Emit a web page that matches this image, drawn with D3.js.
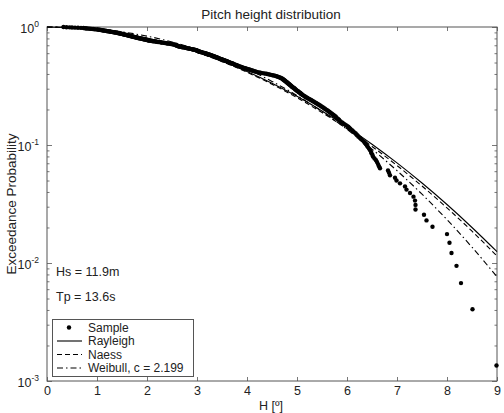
<!DOCTYPE html>
<html>
<head>
<meta charset="utf-8">
<script src="https://cdn.jsdelivr.net/npm/d3@7"></script>
<style>
  html, body { margin: 0; padding: 0; background: #fff; }
  svg { display: block; font-family: "Liberation Sans", Arial, sans-serif; }
</style>
</head>
<body>
<svg id="chart" width="504" height="413"></svg>
<script>
// Pitch heights of the sample, sorted from largest to smallest [deg]
const sampleHeights = [
  8.99, 8.51, 8.28, 8.19, 8.09, 8.05, 8.00, 7.71, 7.59, 7.54,
  7.37, 7.37, 7.36, 7.33, 7.26, 7.19, 7.16, 7.06, 6.99, 6.96,
  6.86, 6.84, 6.82, 6.66, 6.64, 6.62, 6.60, 6.58, 6.55, 6.52,
  6.51, 6.49, 6.48, 6.46,
  6.44, 6.42, 6.40, 6.38, 6.36,
  6.34, 6.31, 6.28, 6.26, 6.23, 6.21,
  6.19, 6.17, 6.14, 6.12, 6.10, 6.07, 6.05, 6.03, 6.01,
  5.98, 5.95, 5.92, 5.90, 5.87,
  5.85, 5.84, 5.82, 5.80, 5.78, 5.77, 5.75, 5.73,
  5.71, 5.69, 5.67, 5.65, 5.63, 5.61, 5.59, 5.57, 5.55, 5.53, 5.51, 5.49, 5.47, 5.45, 5.43, 5.41,
  5.39, 5.37, 5.35, 5.33, 5.31, 5.29, 5.27, 5.25, 5.23, 5.21, 5.19, 5.17, 5.16, 5.14,
  5.12, 5.11, 5.09, 5.08, 5.07, 5.06, 5.04, 5.03, 5.02, 5.00,
  4.99, 4.98, 4.97, 4.96, 4.95, 4.94, 4.92, 4.91, 4.90, 4.89, 4.88, 4.87, 4.86,
  4.85, 4.84, 4.83, 4.82, 4.81, 4.80, 4.79, 4.78, 4.77, 4.76, 4.75,
  4.74, 4.73, 4.72, 4.71, 4.70, 4.68, 4.67, 4.65, 4.63, 4.61, 4.59,
  4.57, 4.54, 4.51, 4.48, 4.45, 4.42,
  4.39, 4.35, 4.31, 4.27, 4.24,
  4.21, 4.18, 4.16, 4.14, 4.12, 4.10,
  4.08, 4.06, 4.04, 4.02, 4.00, 3.98, 3.96, 3.94, 3.92,
  3.90, 3.88, 3.87, 3.85, 3.83, 3.82, 3.80, 3.79,
  3.78, 3.76, 3.75, 3.73, 3.72, 3.71, 3.69, 3.68, 3.66, 3.65, 3.64, 3.62, 3.61, 3.60, 3.58,
  3.57, 3.55, 3.54, 3.53, 3.51, 3.50, 3.49, 3.47, 3.46, 3.44, 3.43, 3.42, 3.41, 3.40,
  3.39, 3.37, 3.36, 3.35, 3.33, 3.32, 3.31, 3.29, 3.28,
  3.27, 3.25, 3.24, 3.22, 3.21, 3.19, 3.18, 3.16, 3.15, 3.13, 3.12, 3.10, 3.09, 3.07, 3.06,
  3.04, 3.03, 3.02, 3.01, 3.00, 2.99, 2.98,
  2.97, 2.95, 2.93, 2.91, 2.89, 2.87, 2.85, 2.83, 2.81, 2.79, 2.77, 2.75, 2.73, 2.71, 2.69, 2.67,
  2.65, 2.64, 2.63, 2.62, 2.61, 2.60, 2.59, 2.58, 2.57, 2.56, 2.55, 2.53,
  2.51, 2.48, 2.46, 2.43, 2.41, 2.39, 2.36, 2.34, 2.31, 2.29, 2.27, 2.24, 2.22, 2.19, 2.17,
  2.14, 2.12, 2.10, 2.07,
  2.05, 2.04, 2.02, 2.01, 2.00, 1.98, 1.96, 1.95, 1.93, 1.92, 1.90, 1.89, 1.87,
  1.85, 1.84, 1.82, 1.81, 1.80, 1.78, 1.77, 1.76, 1.74, 1.73, 1.72, 1.70, 1.69, 1.68, 1.66,
  1.65, 1.64, 1.63, 1.61, 1.60, 1.59, 1.57, 1.56, 1.55, 1.53, 1.52, 1.51, 1.49, 1.48, 1.47,
  1.45, 1.44, 1.43, 1.41, 1.40,
  1.38, 1.36, 1.34, 1.33, 1.31, 1.29, 1.27, 1.26, 1.24, 1.22, 1.20, 1.19, 1.17, 1.15, 1.13,
  1.12, 1.10, 1.08, 1.06, 1.05, 1.03, 1.01,
  0.98, 0.95, 0.92, 0.89, 0.86, 0.83, 0.80, 0.78, 0.76, 0.73,
  0.68, 0.62, 0.56, 0.50, 0.45, 0.39, 0.33
];

// Fitted distributions, exceedance probability at each height
const fitHeights = [0, 0.5, 1, 1.5, 2, 2.5, 3, 3.5, 4, 4.5, 5, 5.5, 6, 6.5, 7, 7.5, 8, 8.5, 9];
const rayleighProb = [1, 0.9866, 0.9473, 0.8853, 0.8053, 0.7130, 0.6144, 0.5153, 0.4206, 0.3342,
  0.2584, 0.1945, 0.1424, 0.1016, 0.0705, 0.0476, 0.0313, 0.0200, 0.01247];
const naessProb = [1, 0.9863, 0.9463, 0.8833, 0.8020, 0.7084, 0.6087, 0.5088, 0.4137, 0.3272,
  0.2517, 0.1884, 0.1372, 0.0972, 0.0670, 0.0449, 0.0293, 0.0186, 0.01146];
const weibullProb = [1, 0.9916, 0.9619, 0.9096, 0.8366, 0.7472, 0.6472, 0.5430, 0.4409, 0.3460,
  0.2624, 0.1921, 0.1357, 0.0923, 0.0606, 0.0383, 0.0233, 0.01361, 0.00765];

const xTicks = [0, 1, 2, 3, 4, 5, 6, 7, 8, 9];
const yDecades = [1e-3, 1e-2, 1e-1, 1];
const yExponents = ["-3", "-2", "-1", "0"];
const legendLabels = ["Sample", "Rayleigh", "Naess", "Weibull, c = 2.199"];
const notes = ["Hs = 11.9m", "Tp = 13.6s"];

const svg = d3.select("#chart");
const plotLeft = 47, plotRight = 497, plotTop = 27, plotBottom = 381;

const x = d3.scaleLinear().domain([0, 9]).range([plotLeft, plotRight]);
const y = d3.scaleLog().domain([1e-3, 1]).range([plotBottom, plotTop]);

const ink = "#222";
const axisColor = "#555";

// Minor log ticks
const minorTicks = [];
yDecades.slice(0, 3).forEach(d => { for (let k = 2; k <= 9; k++) minorTicks.push(d * k); });

function styleAxis(g) {
  g.select(".domain").remove();
  g.selectAll(".tick line").attr("stroke", axisColor).attr("stroke-width", 0.8);
  g.selectAll(".tick text").attr("fill", ink).attr("font-size", 12.5);
}

// Bottom axis with labels
svg.append("g").attr("transform", `translate(0,${plotBottom})`)
  .call(d3.axisBottom(x).tickValues(xTicks).tickFormat(d3.format("d")).tickSizeInner(-4).tickSizeOuter(0).tickPadding(5))
  .call(styleAxis);
// Top axis ticks
svg.append("g").attr("transform", `translate(0,${plotTop})`)
  .call(d3.axisTop(x).tickValues(xTicks).tickFormat("").tickSizeInner(-4).tickSizeOuter(0))
  .call(styleAxis);

// Left axis: decades with superscript labels
const yAxisG = svg.append("g").attr("transform", `translate(${plotLeft},0)`)
  .call(d3.axisLeft(y).tickValues(yDecades).tickFormat("").tickSizeInner(-5).tickSizeOuter(0))
  .call(styleAxis);
yAxisG.selectAll(".tick").each(function(d, i) {
  const t = d3.select(this).append("text")
    .attr("x", -8).attr("y", 0).attr("dy", "0.45em")
    .attr("text-anchor", "end").attr("fill", ink).attr("font-size", 12.5);
  t.append("tspan").text("10");
  t.append("tspan").attr("font-size", 8.5).attr("dy", "-0.75em").text(yExponents[i]);
});
svg.append("g").attr("transform", `translate(${plotLeft},0)`)
  .call(d3.axisLeft(y).tickValues(minorTicks).tickFormat("").tickSizeInner(-2.5).tickSizeOuter(0))
  .call(styleAxis);
// Right axis ticks
svg.append("g").attr("transform", `translate(${plotRight},0)`)
  .call(d3.axisRight(y).tickValues(yDecades).tickFormat("").tickSizeInner(-5).tickSizeOuter(0))
  .call(styleAxis);
svg.append("g").attr("transform", `translate(${plotRight},0)`)
  .call(d3.axisRight(y).tickValues(minorTicks).tickFormat("").tickSizeInner(-2.5).tickSizeOuter(0))
  .call(styleAxis);

// Plot frame
svg.append("rect")
  .attr("x", plotLeft).attr("y", plotTop).attr("width", plotRight - plotLeft).attr("height", plotBottom - plotTop)
  .attr("fill", "none").attr("stroke", axisColor).attr("stroke-width", 1);

// Fitted curves
const fits = [
  { prob: rayleighProb, dash: null },
  { prob: naessProb, dash: "5,3" },
  { prob: weibullProb, dash: "6,3,1.5,3" }
];
const line = d3.line().x(d => x(d[0])).y(d => y(d[1])).curve(d3.curveMonotoneX);
fits.forEach(f => {
  svg.append("path")
    .datum(fitHeights.map((h, i) => [h, f.prob[i]]))
    .attr("d", line)
    .attr("fill", "none").attr("stroke", "#000").attr("stroke-width", 1.1)
    .attr("stroke-dasharray", f.dash);
});

// Empirical exceedance probability of the sample
const n = sampleHeights.length;
svg.append("g").selectAll("circle")
  .data(sampleHeights.map((h, i) => [h, (i + 0.5) / n]))
  .join("circle")
  .attr("cx", d => x(d[0])).attr("cy", d => y(d[1])).attr("r", 2.2)
  .attr("fill", "#000");

// Title and axis labels
svg.append("text").attr("x", 271).attr("y", 19)
  .attr("text-anchor", "middle").attr("font-size", 13.5).attr("fill", ink)
  .text("Pitch height distribution");
svg.append("text").attr("x", 271).attr("y", 410)
  .attr("text-anchor", "middle").attr("font-size", 12.5).attr("fill", ink)
  .text("H [º]");
svg.append("text")
  .attr("transform", `translate(16,${(plotTop + plotBottom) / 2}) rotate(-90)`)
  .attr("text-anchor", "middle").attr("font-size", 13.5).attr("fill", ink)
  .text("Exceedance Probability");

// Sea state notes
notes.forEach((t, i) => {
  svg.append("text").attr("x", 56).attr("y", 276 + i * 25)
    .attr("font-size", 12.5).attr("fill", ink).text(t);
});

// Legend
const lg = svg.append("g");
lg.append("rect").attr("x", 52.5).attr("y", 319.5).attr("width", 141).attr("height", 57)
  .attr("fill", "#fff").attr("stroke", axisColor).attr("stroke-width", 1);
legendLabels.forEach((label, i) => {
  const cy = 327.5 + i * 13.5;
  if (i === 0) {
    lg.append("circle").attr("cx", 69).attr("cy", cy).attr("r", 2.2).attr("fill", "#000");
  } else {
    lg.append("line").attr("x1", 57).attr("x2", 82).attr("y1", cy).attr("y2", cy)
      .attr("stroke", "#000").attr("stroke-width", 1.1)
      .attr("stroke-dasharray", fits[i - 1].dash);
  }
  lg.append("text").attr("x", 88).attr("y", cy).attr("dy", "0.35em")
    .attr("font-size", 12).attr("fill", ink).text(label);
});
</script>
</body>
</html>
